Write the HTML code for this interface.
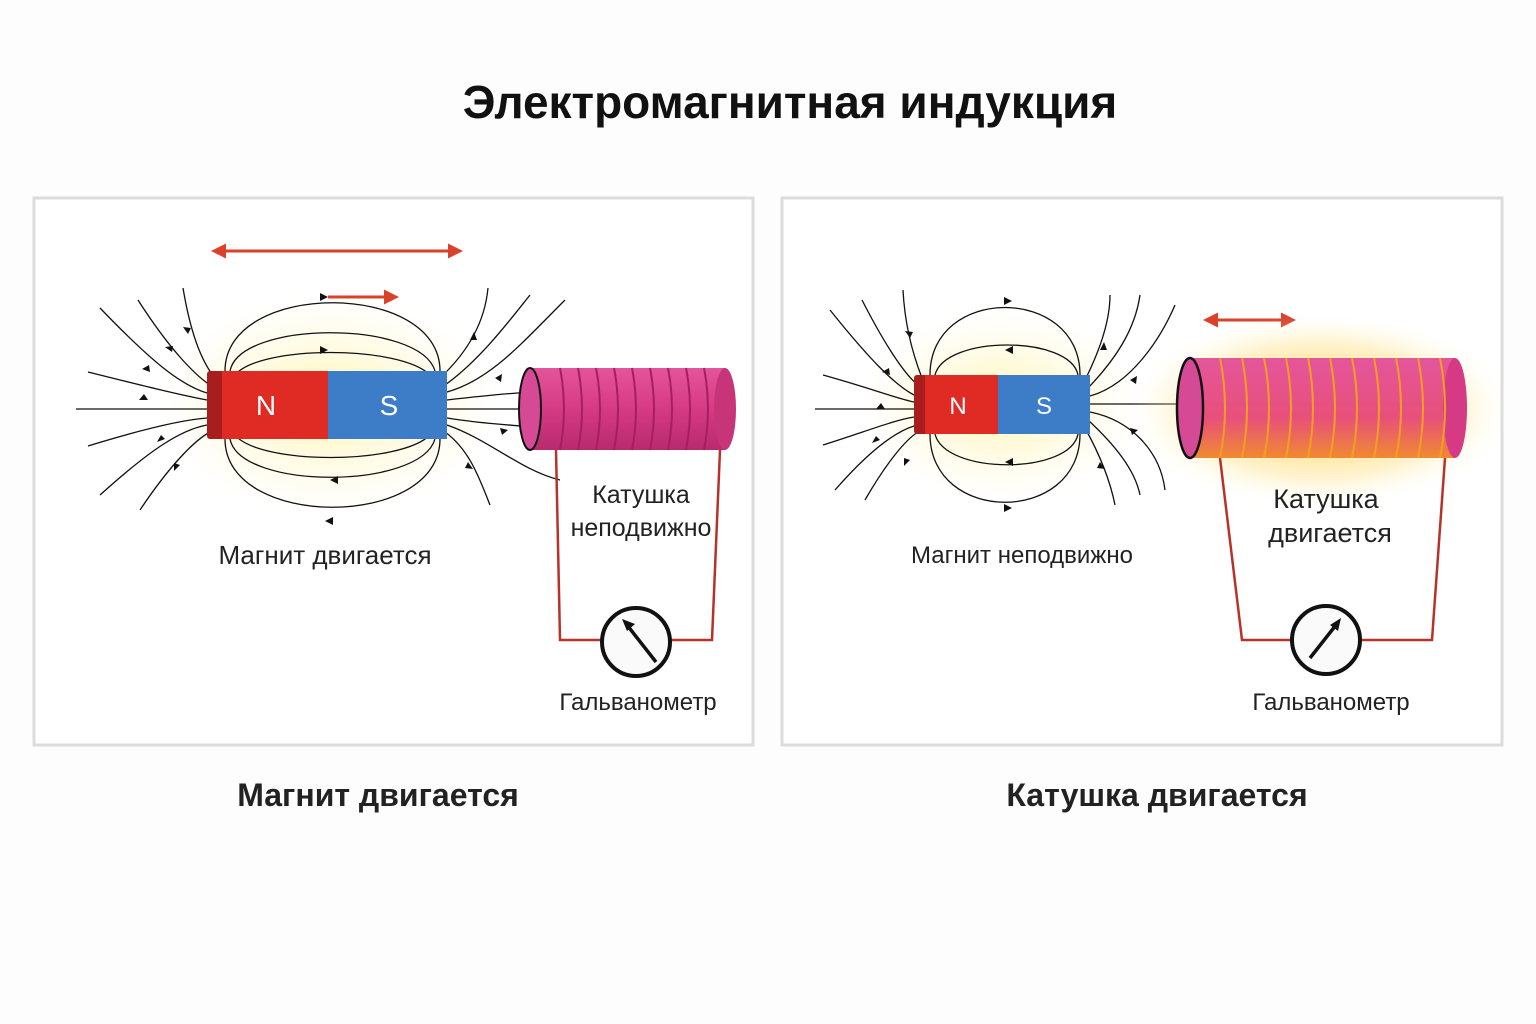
<!DOCTYPE html>
<html><head><meta charset="utf-8"><style>
html,body{margin:0;padding:0;background:#fdfdfd;}
svg{display:block;font-family:"Liberation Sans","DejaVu Sans",sans-serif;}
</style></head><body>
<svg width="1536" height="1024" viewBox="0 0 1536 1024" xmlns="http://www.w3.org/2000/svg">
<defs>
<marker id="rh" viewBox="0 0 10 10" refX="8" refY="5" markerWidth="5" markerHeight="5" orient="auto"><path d="M0,0 L10,5 L0,10 z" fill="#d9412b"/></marker>
<marker id="rt" viewBox="0 0 10 10" refX="2" refY="5" markerWidth="5" markerHeight="5" orient="auto"><path d="M10,0 L0,5 L10,10 z" fill="#d9412b"/></marker>
<radialGradient id="glow" cx="0.5" cy="0.5" r="0.5"><stop offset="0" stop-color="#fff3a8" stop-opacity="0.9"/><stop offset="1" stop-color="#fff8d0" stop-opacity="0"/></radialGradient>
<radialGradient id="glow2" cx="0.5" cy="0.5" r="0.5"><stop offset="0" stop-color="#ffb000" stop-opacity="0.8"/><stop offset="0.7" stop-color="#ffe080" stop-opacity="0.4"/><stop offset="1" stop-color="#fff8d0" stop-opacity="0"/></radialGradient>
<linearGradient id="coil" x1="0" y1="0" x2="0" y2="1"><stop offset="0" stop-color="#e4559b"/><stop offset="0.5" stop-color="#d63a85"/><stop offset="1" stop-color="#b82a6e"/></linearGradient>
<linearGradient id="coil2" x1="0" y1="0" x2="0" y2="1"><stop offset="0" stop-color="#e4559b"/><stop offset="0.6" stop-color="#e8507a"/><stop offset="1" stop-color="#f08a30"/></linearGradient>
</defs>
<text x="790" y="118" text-anchor="middle" font-size="46" font-weight="bold" fill="#111">Электромагнитная индукция</text>

<rect x="34" y="198" width="719" height="547" fill="#fff" stroke="#dcdcdc" stroke-width="3"/>
<rect x="782" y="198" width="720" height="547" fill="#fff" stroke="#dcdcdc" stroke-width="3"/>

<!-- LEFT -->
<ellipse cx="328" cy="405" rx="170" ry="110" fill="url(#glow)"/>
<line x1="214" y1="251" x2="460" y2="251" stroke="#d9412b" stroke-width="3" marker-start="url(#rt)" marker-end="url(#rh)"/>
<line x1="328" y1="297" x2="396" y2="297" stroke="#d9412b" stroke-width="3" marker-end="url(#rh)"/>
<g fill="none" stroke="#111" stroke-width="1.3">
<path d="M225,371 C225,280 440,280 440,371"/>
<path d="M225,439 C225,530 440,530 440,439"/>
<path d="M230,371 C240,320 420,320 435,371"/>
<path d="M230,439 C240,490 420,490 435,439"/>
<path d="M235,375 C260,345 400,345 430,375"/>
<path d="M235,435 C260,465 400,465 430,435"/>
<path d="M76,409 L207,409"/>
<path d="M88,372 C140,385 180,395 207,400"/>
<path d="M100,308 C150,360 180,385 207,393"/>
<path d="M138,300 C170,350 195,375 210,385"/>
<path d="M183,288 C190,330 200,360 215,378"/>
<path d="M88,446 C140,430 180,420 207,418"/>
<path d="M100,495 C150,450 180,430 207,425"/>
<path d="M140,510 C170,465 195,440 210,432"/>
<path d="M447,409 L520,409"/>
<path d="M447,400 C490,395 520,392 540,392"/>
<path d="M447,392 C490,380 520,345 565,300"/>
<path d="M445,385 C480,360 510,320 530,295"/>
<path d="M440,378 C470,350 485,320 488,288"/>
<path d="M447,418 C490,425 520,425 540,428"/>
<path d="M447,425 C490,440 520,470 560,480"/>
<path d="M445,432 C470,450 480,480 490,505"/>
</g>
<g fill="#111">
<path d="M188,334 l-5,-7 l8,1z"/><path d="M172,352 l-7,-5 l8,-1z"/><path d="M150,372 l-8,-3 l7,-4z"/><path d="M148,400 l-9,0 l5,-6z"/>
<path d="M165,439 l-8,3 l4,-7z"/><path d="M180,465 l-6,6 l0,-8z"/><path d="M328,297 l-8,-4 l0,8z"/><path d="M328,350 l-8,-4 l0,8z"/>
<path d="M330,480 l8,-4 l0,8z"/><path d="M325,521 l8,-4 l0,8z"/><path d="M470,340 l4,-8 l3,8z"/><path d="M495,378 l7,-4 l-1,8z"/>
<path d="M500,428 l8,2 l-6,5z"/><path d="M468,462 l5,7 l-8,-1z"/>
</g>
<rect x="207" y="371" width="18" height="68" rx="3" fill="#a81e1e"/>
<rect x="222" y="371" width="106" height="68" fill="#e02a24"/>
<rect x="328" y="371" width="119" height="68" fill="#3d7dc8"/>
<text x="266" y="415" text-anchor="middle" font-size="28" fill="#fff">N</text>
<text x="389" y="415" text-anchor="middle" font-size="28" fill="#fff">S</text>
<rect x="530" y="368" width="195" height="82" fill="url(#coil)"/>
<ellipse cx="725" cy="409" rx="11" ry="41" fill="#c73478"/>
<g stroke="#a81e5e" stroke-width="2" fill="none">
<path d="M560,368 q8,41 0,82 M578,368 q8,41 0,82 M596,368 q8,41 0,82 M614,368 q8,41 0,82 M632,368 q8,41 0,82 M650,368 q8,41 0,82 M668,368 q8,41 0,82 M686,368 q8,41 0,82 M704,368 q8,41 0,82"/>
</g>
<ellipse cx="530" cy="409" rx="11" ry="41" fill="#d64a95" stroke="#111" stroke-width="2"/>
<path d="M556,450 L560,640 L602,640 M670,640 L712,640 L720,450" fill="none" stroke="#b8322a" stroke-width="2.5"/>
<circle cx="636" cy="642" r="34" fill="#fafafa" stroke="#111" stroke-width="4"/>
<line x1="656" y1="662" x2="627" y2="625" stroke="#111" stroke-width="3.5"/>
<path d="M622,619 l13,5 l-8,7z" fill="#111"/>
<text x="641" y="503" text-anchor="middle" font-size="25" fill="#222">Катушка</text>
<text x="641" y="536" text-anchor="middle" font-size="25" fill="#222">неподвижно</text>
<text x="325" y="564" text-anchor="middle" font-size="26" fill="#222">Магнит двигается</text>
<text x="638" y="710" text-anchor="middle" font-size="24" fill="#222">Гальванометр</text>

<!-- RIGHT -->
<ellipse cx="1002" cy="405" rx="140" ry="95" fill="url(#glow)"/>
<g fill="none" stroke="#111" stroke-width="1.3">
<path d="M930,375 C930,285 1080,285 1080,375"/>
<path d="M930,434 C930,525 1080,525 1080,434"/>
<path d="M935,375 C945,335 1070,335 1078,375"/>
<path d="M935,434 C945,475 1070,475 1078,434"/>
<path d="M815,409 L914,409"/>
<path d="M823,375 C870,388 895,398 914,402"/>
<path d="M830,310 C870,360 895,385 914,395"/>
<path d="M862,300 C885,345 905,375 918,385"/>
<path d="M903,290 C905,330 915,360 922,378"/>
<path d="M823,445 C870,430 895,420 914,417"/>
<path d="M835,490 C870,450 895,432 914,426"/>
<path d="M865,500 C885,465 905,440 918,432"/>
<path d="M1090,404 L1178,404"/>
<path d="M1090,396 C1130,385 1160,340 1175,305"/>
<path d="M1088,388 C1115,360 1135,330 1140,295"/>
<path d="M1085,380 C1100,350 1110,320 1110,295"/>
<path d="M1090,412 C1130,420 1160,450 1165,490"/>
<path d="M1088,420 C1115,445 1135,470 1140,495"/>
<path d="M1085,428 C1100,455 1110,480 1115,505"/>
</g>
<g fill="#111">
<path d="M1012,301 l-8,-4 l0,8z"/><path d="M1005,350 l8,-4 l0,8z"/><path d="M1005,462 l8,-4 l0,8z"/><path d="M1012,508 l-8,-4 l0,8z"/>
<path d="M890,375 l-8,-3 l7,-4z"/><path d="M885,409 l-9,0 l5,-6z"/><path d="M880,440 l-8,3 l4,-7z"/><path d="M910,460 l-6,6 l0,-8z"/>
<path d="M910,338 l-5,-7 l8,1z"/><path d="M1130,380 l7,-4 l-1,8z"/><path d="M1130,428 l8,2 l-6,5z"/><path d="M1100,350 l4,-8 l3,8z"/><path d="M1100,462 l5,7 l-8,-1z"/>
</g>
<rect x="914" y="375" width="14" height="59" rx="3" fill="#a81e1e"/>
<rect x="925" y="375" width="73" height="59" fill="#e02a24"/>
<rect x="998" y="375" width="92" height="59" fill="#3d7dc8"/>
<text x="958" y="414" text-anchor="middle" font-size="24" fill="#fff">N</text>
<text x="1044" y="414" text-anchor="middle" font-size="24" fill="#fff">S</text>
<line x1="1206" y1="320" x2="1293" y2="320" stroke="#d9412b" stroke-width="3" marker-start="url(#rt)" marker-end="url(#rh)"/>
<ellipse cx="1320" cy="410" rx="190" ry="95" fill="url(#glow2)"/>
<rect x="1188" y="358" width="267" height="100" fill="url(#coil2)"/>
<ellipse cx="1455" cy="408" rx="12" ry="50" fill="#d63a85"/>
<g stroke="#f0a020" stroke-width="2" fill="none">
<path d="M1220,358 q10,50 0,100 M1242,358 q10,50 0,100 M1264,358 q10,50 0,100 M1286,358 q10,50 0,100 M1308,358 q10,50 0,100 M1330,358 q10,50 0,100 M1352,358 q10,50 0,100 M1374,358 q10,50 0,100 M1396,358 q10,50 0,100 M1418,358 q10,50 0,100 M1440,358 q10,50 0,100"/>
</g>
<ellipse cx="1190" cy="408" rx="13" ry="50" fill="#d64a95" stroke="#111" stroke-width="2.5"/>
<path d="M1220,458 L1242,640 L1292,640 M1360,640 L1432,640 L1445,458" fill="none" stroke="#b8322a" stroke-width="2.5"/>
<circle cx="1326" cy="640" r="34" fill="#fafafa" stroke="#111" stroke-width="4"/>
<line x1="1310" y1="658" x2="1336" y2="625" stroke="#111" stroke-width="3.5"/>
<path d="M1341,618 l-3,13 l-8,-6z" fill="#111"/>
<text x="1326" y="508" text-anchor="middle" font-size="27" fill="#222">Катушка</text>
<text x="1330" y="542" text-anchor="middle" font-size="27" fill="#222">двигается</text>
<text x="1022" y="563" text-anchor="middle" font-size="24" fill="#222">Магнит неподвижно</text>
<text x="1331" y="710" text-anchor="middle" font-size="24" fill="#222">Гальванометр</text>

<text x="378" y="806" text-anchor="middle" font-size="32" font-weight="bold" fill="#222">Магнит двигается</text>
<text x="1157" y="806" text-anchor="middle" font-size="32" font-weight="bold" fill="#222">Катушка двигается</text>
</svg>
</body></html>
